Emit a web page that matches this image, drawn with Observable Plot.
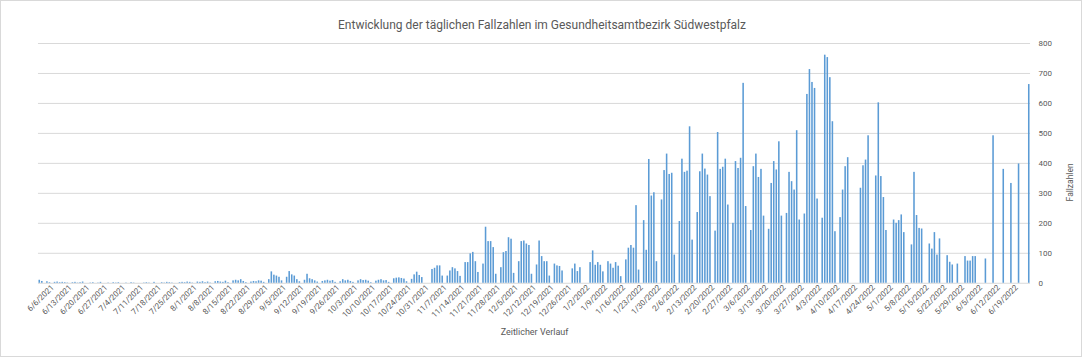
<!DOCTYPE html>
<html>
<head>
<meta charset="utf-8">
<script src="https://cdn.jsdelivr.net/npm/d3@7"></script>
<script src="https://cdn.jsdelivr.net/npm/@observablehq/plot@0.6"></script>
<style>
  html, body { margin: 0; padding: 0; background: #fff; }
  #chart { position: relative; width: 1082px; height: 357px; box-sizing: border-box; border: 1px solid #d9d9d9; overflow: hidden; }
  #title { position: absolute; left: 0; top: 17px; width: 1082px; text-align: center; font-family: Roboto, sans-serif; font-size: 12px; line-height: 14px; color: #595959; }
  #plot { position: absolute; left: -1px; top: 29px; }
</style>
</head>
<body>
<div id="chart">
  <div id="title"></div>
  <div id="plot"></div>
</div>
<script>
const titleText = "Entwicklung der täglichen Fallzahlen im Gesundheitsamtbezirk Südwestpfalz";
const xLabel = "Zeitlicher Verlauf";
const yLabel = "Fallzahlen";

// daily case numbers, one array per month (index 0 = day 1)
const jun2021 = [10,6,0,5,2,0,3,4,2,3, 2,1,0,2,3,1,2,4,0,0, 1,2,0,1,3,0,0,1,0,2];
const jul2021 = [1,2,0,0,1,0,2,1,0,0, 0,1,2,1,0,3,0,0,2,1, 3,2,1,0,0,2,3,2,4,3, 1];
const aug2021 = [0,4,3,5,2,4,1,0,5,6, 4,3,7,2,0,8,10,8,12,6, 2,0,4,6,5,8,7,3,0,12, 38];
const sep2021 = [27,24,20,8,0,20,39,28,24,12, 5,0,10,30,15,12,8,4,0,6, 8,10,7,9,3,0,5,12,8,10];
const oct2021 = [6,3,0,8,12,9,10,7,2,0, 7,10,12,8,9,3,0,15,17,18, 16,14,5,0,13,28,37,26,19,0, 0];
const nov2021 = [0,46,50,58,58,24,0,24,41,52, 48,39,23,0,69,69,98,103,72,36, 0,64,187,139,139,119,30,0,52,102];
const dec2021 = [106,152,147,33,0,72,139,141,131,126, 30,0,61,141,89,72,72,24,0,64, 58,56,41,0,0,0,48,64,39,52, 0];
const jan2022 = [0,0,69,108,60,69,60,38,0,72, 64,50,69,57,22,0,78,117,126,117, 259,44,0,209,110,413,291,302,72,0, 278];
const feb2022 = [376,431,363,367,94,0,206,414,370,374, 522,144,0,236,372,431,381,361,289,0, 174,503,380,387,414,261,0,200];
const mar2022 = [406,383,417,667,256,0,176,389,431,353, 380,224,0,180,333,406,378,472,224,0, 233,370,339,311,509,211,0,231,630,713, 670];
const apr2022 = [650,281,0,217,761,753,686,539,172,0, 219,311,389,419,0,0,0,0,317,392, 411,492,0,0,358,602,356,286,176,0];
const may2022 = [0,211,200,209,228,169,0,0,128,370, 226,183,181,0,0,131,114,169,94,148, 0,0,92,70,61,0,64,0,0,89, 74];
const jun2022 = [74,89,89,0,0,0,81,0,0,492, 0,0,0,380,0,0,333,0,0,398, 0,0,0,663];

const tickLabels = ["6/6/2021","6/13/2021","6/20/2021","6/27/2021","7/4/2021","7/11/2021","7/18/2021","7/25/2021",
  "8/1/2021","8/8/2021","8/15/2021","8/22/2021","8/29/2021","9/5/2021","9/12/2021","9/19/2021","9/26/2021",
  "10/3/2021","10/10/2021","10/17/2021","10/24/2021","10/31/2021","11/7/2021","11/14/2021","11/21/2021","11/28/2021",
  "12/5/2021","12/12/2021","12/19/2021","12/26/2021","1/2/2022","1/9/2022","1/16/2022","1/23/2022","1/30/2022",
  "2/6/2022","2/13/2022","2/20/2022","2/27/2022","3/6/2022","3/13/2022","3/20/2022","3/27/2022","4/3/2022",
  "4/10/2022","4/17/2022","4/24/2022","5/1/2022","5/8/2022","5/15/2022","5/22/2022","5/29/2022","6/5/2022",
  "6/12/2022","6/19/2022"];
const yTicks = [0,100,200,300,400,500,600,700,800];

const months = [
  [2021,5,jun2021],[2021,6,jul2021],[2021,7,aug2021],[2021,8,sep2021],[2021,9,oct2021],[2021,10,nov2021],
  [2021,11,dec2021],[2022,0,jan2022],[2022,1,feb2022],[2022,2,mar2022],[2022,3,apr2022],[2022,4,may2022],[2022,5,jun2022]
];
const data = [];
for (const [yr, mo, vals] of months) {
  vals.forEach((v, i) => data.push({date: new Date(Date.UTC(yr, mo, i + 1)), value: v}));
}
const bars = data.filter(d => d.value > 0);
const DAY = 864e5;
const tickDates = tickLabels.map(s => { const [m, d, y] = s.split("/").map(Number); return new Date(Date.UTC(y, m - 1, d) + DAY / 2); });
const fmt = d3.utcFormat("%-m/%-d/%Y");

document.getElementById("title").textContent = titleText;

const chart = Plot.plot({
  width: 1082,
  height: 328,
  marginLeft: 38,
  marginRight: 51,
  marginTop: 13,
  marginBottom: 75,
  style: {fontFamily: "Roboto, sans-serif", fontSize: "8px", color: "#595959", background: "transparent"},
  x: {
    type: "utc",
    domain: [new Date(Date.UTC(2021, 5, 1)), new Date(Date.UTC(2022, 5, 25))],
    ticks: tickDates,
    tickFormat: fmt,
    tickRotate: -45,
    tickSize: 0,
    tickPadding: 3,
    label: null
  },
  y: {
    domain: [0, 800],
    ticks: yTicks,
    axis: "right",
    tickSize: 0,
    tickPadding: 8,
    label: null
  },
  marks: [
    Plot.ruleY(yTicks, {stroke: "#d9d9d9", strokeWidth: 1}),
    Plot.rect(bars, {x1: "date", x2: d => new Date(+d.date + DAY), y1: 0, y2: "value", fill: "#5b9bd5", insetLeft: 0.5, insetRight: 0.5}),
    Plot.text([yLabel], {text: d => d, frameAnchor: "right", dx: 40, rotate: -90, fontSize: 8.5, fill: "#595959"}),
    Plot.text([xLabel], {text: d => d, frameAnchor: "bottom", dy: 52, fontSize: 9, fill: "#595959"})
  ]
});
document.getElementById("plot").appendChild(chart);
</script>
</body>
</html>
